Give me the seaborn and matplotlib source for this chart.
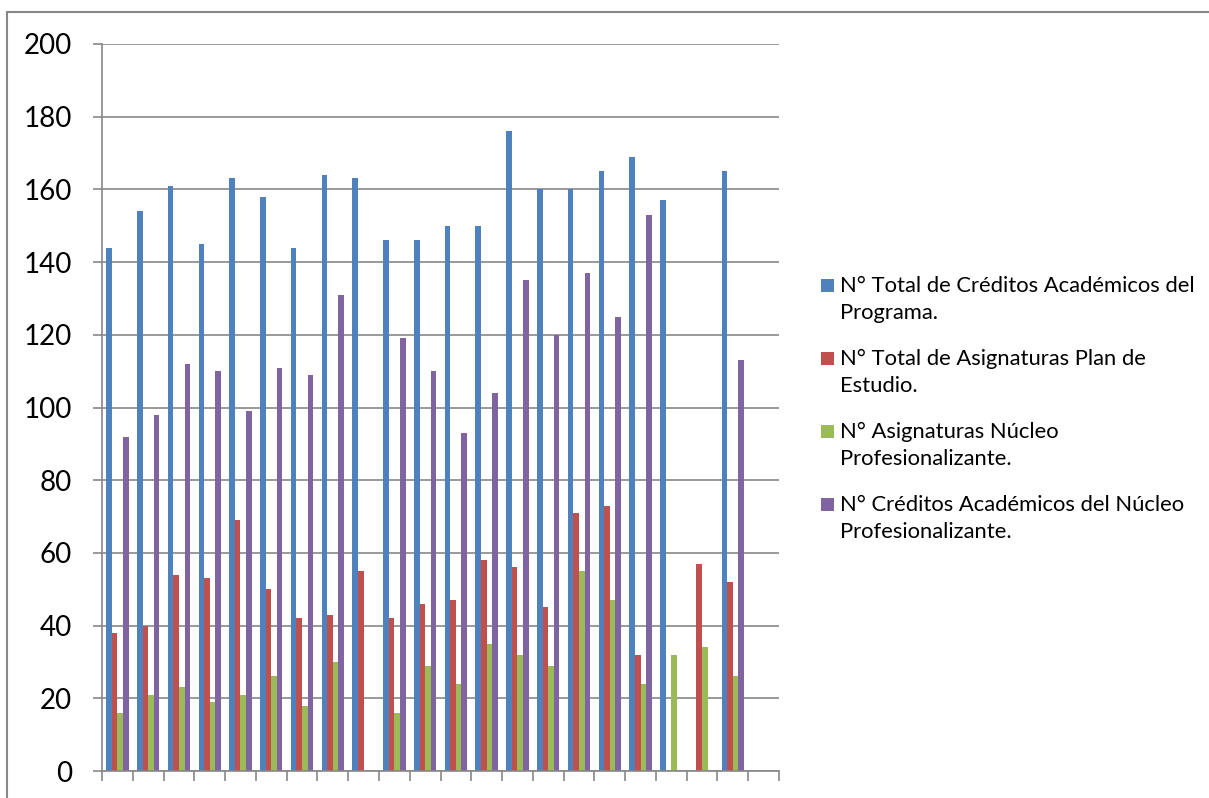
import numpy as np
import pandas as pd
import seaborn as sns
import matplotlib
matplotlib.use("Agg")
import matplotlib.pyplot as plt
from matplotlib.patches import Rectangle

# Programs (22 slots along the x axis; the last one has no data)
programas = [f"P{i}" for i in range(1, 23)]

nan = np.nan
creditos_programa = [144, 154, 161, 145, 163, 158, 144, 164, 163, 146, 146,
                     150, 150, 176, 160, 160, 165, 169, 157, nan, 165, nan]
asignaturas_plan = [38, 40, 54, 53, 69, 50, 42, 43, 55, 42, 46,
                    47, 58, 56, 45, 71, 73, 32, nan, 57, 52, nan]
asignaturas_nucleo = [16, 21, 23, 19, 21, 26, 18, 30, nan, 16, 29,
                      24, 35, 32, 29, 55, 47, 24, 32, 34, 26, nan]
creditos_nucleo = [92, 98, 112, 110, 99, 111, 109, 131, nan, 119, 110,
                   93, 104, 135, 120, 137, 125, 153, nan, nan, 113, nan]

series = [
    "N° Total de Créditos Académicos del Programa.",
    "N° Total de Asignaturas Plan de Estudio.",
    "N° Asignaturas Núcleo Profesionalizante.",
    "N° Créditos Académicos del Núcleo Profesionalizante.",
]
legend_lines = [
    "N° Total de Créditos Académicos del\nPrograma.",
    "N° Total de Asignaturas Plan de\nEstudio.",
    "N° Asignaturas Núcleo\nProfesionalizante.",
    "N° Créditos Académicos del Núcleo\nProfesionalizante.",
]
colores = ["#4F81BD", "#C0504D", "#9BBB59", "#8064A2"]

y_ticks = [0, 20, 40, 60, 80, 100, 120, 140, 160, 180, 200]

valores = [creditos_programa, asignaturas_plan, asignaturas_nucleo, creditos_nucleo]
df = pd.DataFrame({
    "programa": np.tile(programas, len(series)),
    "serie": np.repeat(series, len(programas)),
    "valor": np.concatenate([np.asarray(v, dtype=float) for v in valores]),
})

sns.set_style("white")
plt.rcParams["font.family"] = ["Lato", "DejaVu Sans"]

W, H = 1209, 798
fig = plt.figure(figsize=(W / 100, H / 100), dpi=100)
ax = fig.add_axes([102 / W, 1 - 771 / H, (779 - 102) / W, (771 - 44) / H])

sns.barplot(data=df, x="programa", y="valor", hue="serie",
            order=programas, hue_order=series, palette=colores,
            width=0.727, errorbar=None, legend=False, ax=ax,
            linewidth=0, saturation=1)

grid_col = "#878787"
ax.set_ylim(0, 200)
ax.set_xlim(-0.5, len(programas) - 0.5)
ax.set_yticks(y_ticks)
ax.set_yticklabels([str(t) for t in y_ticks], fontsize=20, color="black")
ax.yaxis.grid(True, color=grid_col, linewidth=1.2)
ax.set_axisbelow(True)
ax.set_xticks(np.arange(-0.5, len(programas), 1.0))
ax.set_xticklabels([])
ax.tick_params(axis="x", direction="out", length=7, width=1.2, color=grid_col, bottom=True)
ax.tick_params(axis="y", direction="out", length=6.5, width=1.2, color=grid_col, left=True, pad=15)
ax.set_xlabel("")
ax.set_ylabel("")
for side in ["top", "right"]:
    ax.spines[side].set_visible(False)
for side in ["left", "bottom"]:
    ax.spines[side].set_color(grid_col)
    ax.spines[side].set_linewidth(1.2)

# Legend with the swatch aligned to the first text line
y0 = 285
for i, (txt, col) in enumerate(zip(legend_lines, colores)):
    yc = y0 + i * 73
    fig.patches.append(Rectangle((821 / W, 1 - (yc + 7) / H), 13 / W, 13 / H,
                                 transform=fig.transFigure, facecolor=col,
                                 edgecolor="none"))
    fig.text(840 / W, 1 - (yc - 9) / H, txt, fontsize=15.8, va="top", ha="left",
             color="black", linespacing=1.45)

# Chart area border
fig.patches.append(Rectangle((7 / W, -0.05), 1.1, 1 - 12 / H + 0.05,
                             transform=fig.transFigure, facecolor="none",
                             edgecolor=grid_col, linewidth=1.5))

fig.savefig("out.png", dpi=100)
